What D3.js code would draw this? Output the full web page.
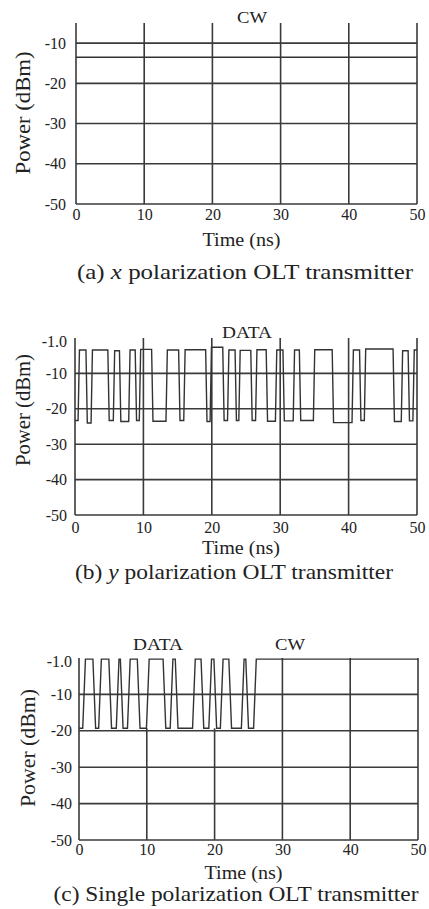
<!DOCTYPE html>
<html lang="en">
<head>
<meta charset="utf-8" />
<title>OLT transmitter power traces</title>
<script src="https://cdnjs.cloudflare.com/ajax/libs/d3/7.4.4/d3.min.js"></script>
<style>
  body { margin: 0; background: #fff; }
  svg { display: block; }
  text { font-family: "Liberation Serif", "DejaVu Serif", serif; fill: #222; }
</style>
</head>
<body>
<div id="chart"></div>
<script>
// ---- data ----
var timeTicks = [0, 10, 20, 30, 40, 50];
var powerTicksA = [-10, -20, -30, -40, -50];
var powerLabelsA = ["-10", "-20", "-30", "-40", "-50"];
var powerTicksBC = [-1, -10, -20, -30, -40, -50];
var powerLabelsBC = ["-1.0", "-10", "-20", "-30", "-40", "-50"];

// (a) x polarization: continuous wave level
var cwLevelA = -13.5;

// (b) y polarization: data, edge times (ns) and level of each segment (dBm)
var edgesB = [0.55, 1.7, 2.45, 4.9, 5.7, 6.6, 7.95, 8.9, 9.5, 11.3, 13.4, 15.25, 16.0, 19.2,
  19.85, 21.7, 22.4, 23.5, 24.05, 25.8, 26.5, 28.05, 29.4, 30.5, 32.0, 32.9, 34.95, 37.7,
  40.6, 41.7, 42.4, 46.6, 47.8, 48.8, 49.5];
var levelsB = [-23.3, -3.4, -24.0, -3.4, -23.3, -3.6, -23.6, -3.4, -23.3, -3.2, -23.5, -3.4,
  -23.3, -3.3, -23.6, -2.6, -23.3, -3.4, -23.3, -3.5, -23.3, -3.3, -23.5, -3.4, -23.4, -3.4,
  -23.3, -3.3, -23.9, -3.4, -23.3, -3.1, -23.6, -3.6, -23.4, -3.4];

// (c) single polarization: data up to ~26 ns, then CW
var edgesC = [0.75, 2.25, 3.1, 4.6, 5.7, 6.3, 7.35, 8.8, 10.15, 12.6, 13.65, 14.4, 16.95,
  18.2, 19.35, 20.1, 21.05, 22.3, 24.15, 24.8, 25.95];
var levelsC = [-19.3, -0.3, -19.3, -0.3, -19.3, -0.3, -19.3, -0.3, -19.3, -0.3, -19.3, -0.3,
  -19.3, -0.3, -19.3, -0.3, -19.3, -0.3, -19.3, -0.3, -19.3, -0.3];

var W = 429, H = 909;
var lineColor = "#3a3a3a";

var svg = d3.select("#chart").append("svg")
  .attr("width", W).attr("height", H);
svg.append("rect").attr("width", W).attr("height", H).attr("fill", "#fff");

// step trace -> points, with a short rise time on each edge
function stepPoints(edges, levels, rise) {
  var pts = [[0, levels[0]]];
  edges.forEach(function (t, i) {
    pts.push([t - rise / 2, levels[i]]);
    pts.push([t + rise / 2, levels[i + 1]]);
  });
  pts.push([50, levels[levels.length - 1]]);
  return pts;
}

var panels = [
  {
    left: 76, right: 417, top: 23, bottom: 204, domain: [-50, -5],
    yTicks: powerTicksA, yLabels: powerLabelsA, yPad: 10,
    trace: [[0, cwLevelA], [50, cwLevelA]], partialGrid: null,
    titles: [{ text: "CW", x: 252, y: 23 }],
    timeY: 246, capY: 279, capX: 245, capLen: 336,
    capParts: ["(a) ", "x", " polarization OLT transmitter"],
    powerX: 30, powerY: 113, powerLen: 123, xLabY: 222
  },
  {
    left: 75, right: 417, top: 338, bottom: 515, domain: [-50, 0],
    yTicks: powerTicksBC, yLabels: powerLabelsBC, yPad: 8,
    trace: stepPoints(edgesB, levelsB, 0.2), partialGrid: null,
    titles: [{ text: "DATA", x: 247, y: 338 }],
    timeY: 554, capY: 579, capX: 234, capLen: 318,
    capParts: ["(b) ", "y", " polarization OLT transmitter"],
    powerX: 30, powerY: 410, powerLen: 112, xLabY: 535
  },
  {
    left: 79, right: 418, top: 658, bottom: 840, domain: [-50, 0],
    yTicks: powerTicksBC, yLabels: powerLabelsBC, yPad: 7,
    trace: stepPoints(edgesC, levelsC, 0.4), partialGrid: { until: 26, from: -19.3 },
    titles: [{ text: "DATA", x: 158, y: 650 }, { text: "CW", x: 290, y: 650 }],
    timeY: 879, capY: 901, capX: 236, capLen: 365,
    capParts: ["(c) Single polarization OLT transmitter"],
    powerX: 35, powerY: 748, powerLen: 118, xLabY: 857
  }
];

panels.forEach(function (p) {
  var x = d3.scaleLinear().domain([0, 50]).range([p.left, p.right]);
  var y = d3.scaleLinear().domain(p.domain).range([p.bottom, p.top]);
  var g = svg.append("g");

  // horizontal grid lines (incl. bottom axis line)
  g.selectAll(".hgrid").data(p.yTicks.filter(function (v) { return v > -50; }).concat([-50]))
    .enter().append("line")
    .attr("x1", x(0)).attr("x2", x(50))
    .attr("y1", function (d) { return y(d); })
    .attr("y2", function (d) { return y(d); })
    .attr("stroke", lineColor).attr("stroke-width", 1.6)
    .filter(function (d) { return d === -1; }).remove();

  // vertical grid lines (incl. left axis line)
  g.selectAll(".vgrid").data(timeTicks).enter().append("line")
    .attr("x1", function (d) { return x(d); })
    .attr("x2", function (d) { return x(d); })
    .attr("y1", function (d) {
      if (p.partialGrid && d > 0 && d < p.partialGrid.until) return y(p.partialGrid.from);
      return y(p.domain[1]);
    })
    .attr("y2", y(-50))
    .attr("stroke", lineColor).attr("stroke-width", 1.6);

  // trace
  g.append("path")
    .datum(p.trace)
    .attr("d", d3.line().x(function (d) { return x(d[0]); }).y(function (d) { return y(d[1]); }))
    .attr("fill", "none")
    .attr("stroke", "#333")
    .attr("stroke-width", 1.4)
    .attr("stroke-linejoin", "miter");

  // y tick labels
  var yAxis = d3.axisLeft(y).tickValues(p.yTicks)
    .tickFormat(function (d, i) { return p.yLabels[i]; })
    .tickSize(0).tickPadding(p.yPad);
  var ya = g.append("g").attr("transform", "translate(" + p.left + ",0)").call(yAxis);
  ya.select(".domain").remove();
  ya.selectAll("text").attr("font-size", 16).style("font-family", "Liberation Serif");

  // x tick labels
  var xAxis = d3.axisBottom(x).tickValues(timeTicks).tickSize(0).tickPadding(0);
  var xa = g.append("g").attr("transform", "translate(0," + (p.xLabY - 13) + ")").call(xAxis);
  xa.select(".domain").remove();
  xa.selectAll("text").attr("font-size", 16).attr("dy", "0.71em")
    .style("font-family", "Liberation Serif");

  // titles above the traces
  p.titles.forEach(function (t) {
    g.append("text").attr("x", t.x).attr("y", t.y)
      .attr("text-anchor", "middle").attr("font-size", 17)
      .attr("textLength", t.text === "CW" ? 30 : 50).attr("lengthAdjust", "spacingAndGlyphs")
      .text(t.text);
  });

  // axis titles
  g.append("text").attr("x", (p.left + p.right) / 2 - 5).attr("y", p.timeY)
    .attr("text-anchor", "middle").attr("font-size", 19)
    .attr("textLength", 78).attr("lengthAdjust", "spacingAndGlyphs")
    .text("Time (ns)");

  g.append("text")
    .attr("transform", "translate(" + p.powerX + "," + p.powerY + ") rotate(-90)")
    .attr("text-anchor", "middle").attr("font-size", 20)
    .attr("textLength", p.powerLen).attr("lengthAdjust", "spacingAndGlyphs")
    .text("Power (dBm)");

  // caption
  var cap = g.append("text").attr("x", p.capX).attr("y", p.capY)
    .attr("text-anchor", "middle").attr("font-size", 21)
    .attr("textLength", p.capLen).attr("lengthAdjust", "spacingAndGlyphs");
  p.capParts.forEach(function (s, i) {
    cap.append("tspan").attr("font-style", i === 1 ? "italic" : null).text(s);
  });
});
</script>
</body>
</html>
